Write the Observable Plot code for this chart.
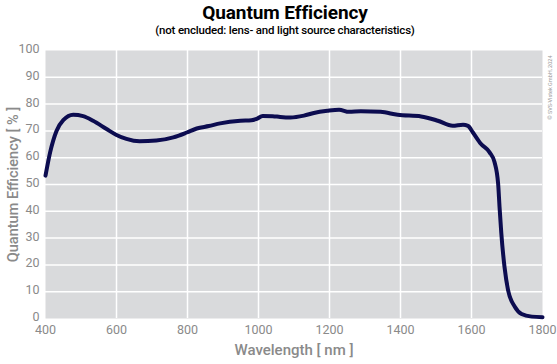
<!DOCTYPE html>
<html>
<head>
<meta charset="utf-8">
<script src="https://cdn.jsdelivr.net/npm/d3@7"></script>
<script src="https://cdn.jsdelivr.net/npm/@observablehq/plot@0.6"></script>
<style>
  html, body { margin: 0; padding: 0; background: #fff; }
  #wrap { position: relative; width: 557px; height: 364px; font-family: Roboto, sans-serif; }
  #title { position: absolute; left: 0; width: 570px; top: 1px; text-align: center; font-size: 19px; font-weight: 700; color: #000; letter-spacing: -0.1px; }
  #subtitle { position: absolute; left: 0; width: 570px; top: 23px; text-align: center; font-size: 11.5px; font-weight: 500; color: #000; letter-spacing: -0.2px; }
  #chart { position: absolute; left: 0; top: 40px; }
</style>
</head>
<body>
<div id="wrap">
  <div id="title">Quantum Efficiency</div>
  <div id="subtitle">(not encluded: lens- and light source characteristics)</div>
  <div id="chart"></div>
</div>
<script>
const wavelength = [400,413,431,450,478,506,534,572,600,628,665,712,760,798,826,860,892,949,980,995,1012,1040,1061,1090,1128,1156,1194,1227,1255,1288,1344,1392,1458,1505,1547,1576,1590,1604,1627,1651,1665,1675,1679,1684,1693,1703,1722,1741,1770,1800];
const qe = [53.3,62,70,74,76,75.5,73.8,70.7,68.5,67,66.1,66.4,67.6,69.4,70.9,71.8,72.8,73.8,74.0,74.5,75.6,75.5,75.2,75.0,75.7,76.7,77.5,77.9,77.1,77.3,77.1,76.0,75.4,73.8,71.9,72.3,71.9,69.4,65.1,62.0,58.3,50.3,41.6,31.8,19.2,10.6,4.4,1.7,0.7,0.5];
const xTicks = [400,600,800,1000,1200,1400,1600,1800];
const yTicks = [0,10,20,30,40,50,60,70,80,90,100];
const xGrid = [600,800,1000,1200,1400,1600];
const yGrid = [10,20,30,40,50,60,70,80,90];
const xTitle = "Wavelength [ nm ]";
const yTitle = "Quantum Efficiency [ % ]";
const copyright = "© SVS-Vistek GmbH, 2024";

const data = wavelength.map((w, i) => ({w, v: qe[i]}));
const gray = "#8a8a8a";

const chart = Plot.plot({
  width: 557,
  height: 324,
  marginTop: 10,
  marginBottom: 46,
  marginLeft: 45,
  marginRight: 15,
  style: {fontFamily: "Roboto, sans-serif", background: "transparent"},
  x: {domain: [400, 1800], label: null},
  y: {domain: [0, 100], label: null},
  marks: [
    Plot.frame({fill: "#d9dadc", stroke: null}),
    Plot.ruleX(xGrid, {stroke: "#fff", strokeWidth: 1.5}),
    Plot.ruleY(yGrid, {stroke: "#fff", strokeWidth: 1.5}),
    Plot.axisX({ticks: xTicks, tickFormat: "d", tickSize: 0, tickPadding: 7, fontSize: 12.5, fill: gray, label: null}),
    Plot.axisY({ticks: yTicks, tickFormat: "d", tickSize: 0, tickPadding: 6, dy: -1.5, fontSize: 12.5, fill: gray, label: null}),
    Plot.line(data, {x: "w", y: "v", stroke: "#0c0c50", strokeWidth: 4, curve: "monotone-x"}),
    Plot.text([xTitle], {frameAnchor: "bottom", dy: 36, fontSize: 15, fontWeight: 500, fill: gray}),
    Plot.text([yTitle], {frameAnchor: "left", textAnchor: "middle", dx: -32, rotate: -90, fontSize: 14.5, fontWeight: 500, fill: gray, style: {letterSpacing: "-0.3px"}}),
    Plot.text([copyright], {frameAnchor: "top-right", dx: 6, dy: 5, rotate: -90, textAnchor: "end", fontSize: 5.5, fill: "#9a9a9a"})
  ]
});
document.getElementById("chart").appendChild(chart);
</script>
</body>
</html>
